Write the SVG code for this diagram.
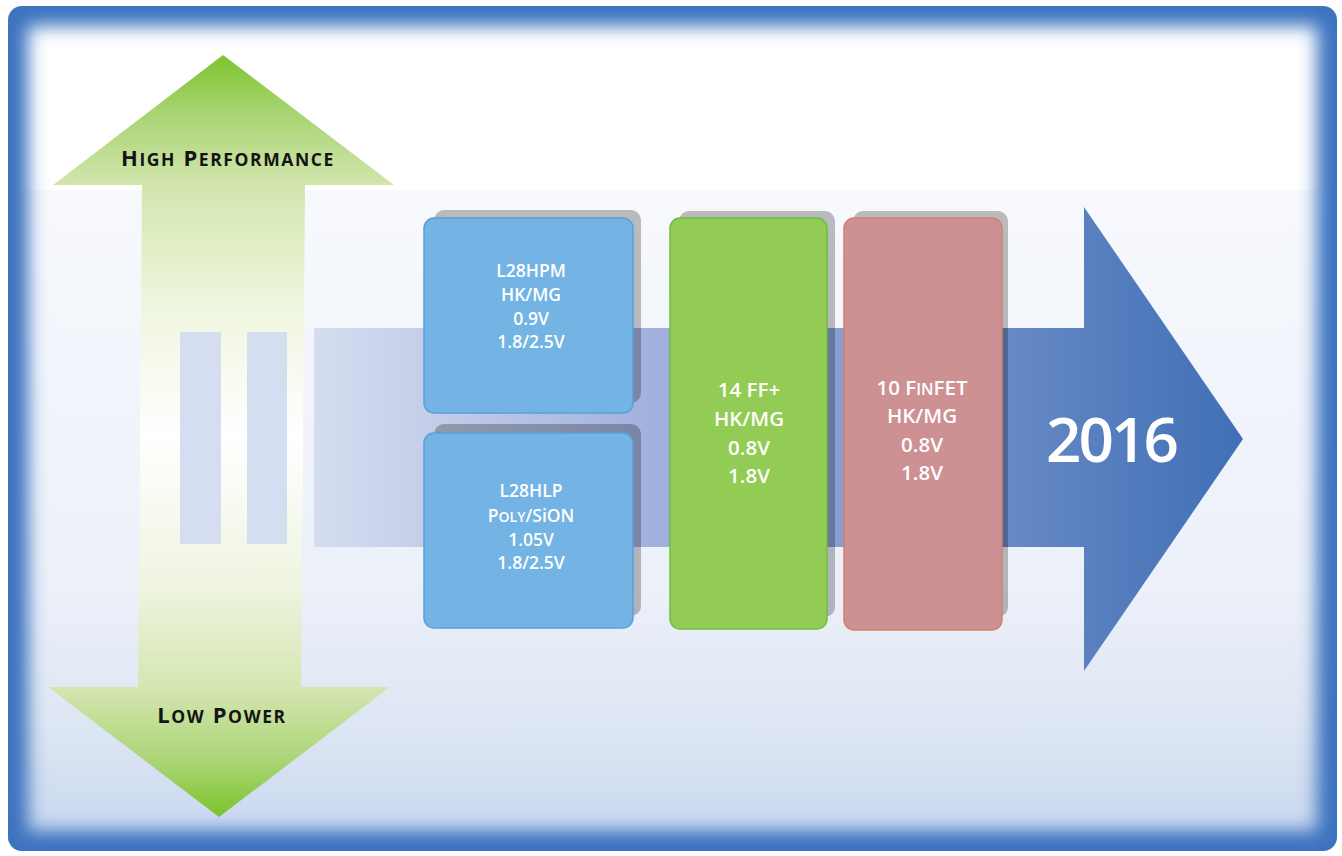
<svg xmlns="http://www.w3.org/2000/svg" width="1342" height="856" viewBox="0 0 1342 856">
  <defs>
    <style>
      .lbl { font-family: "Open Sans", "Noto Sans", "Liberation Sans", sans-serif; font-weight: 700; fill: #141414; text-anchor: middle; letter-spacing: 1.6px; }
      .box-txt { font-family: "Open Sans", "Noto Sans", "Liberation Sans", sans-serif; font-weight: 600; fill: #ffffff; text-anchor: middle; }
      .sm { font-size: 17.5px; }
      .big { font-size: 22px; }
      .shadow { fill: #000000; fill-opacity: 0.25; }
      .pause { fill: #d5def0; }
    </style>
    <clipPath id="frameClip">
      <rect x="8" y="6" width="1329" height="845" rx="14" ry="14"/>
    </clipPath>
    <linearGradient id="bandGrad" gradientUnits="userSpaceOnUse" x1="0" y1="190" x2="0" y2="851">
      <stop offset="0" stop-color="#f7f9fd"/>
      <stop offset="0.6" stop-color="#ecf0f9"/>
      <stop offset="0.8" stop-color="#dfe7f4"/>
      <stop offset="1" stop-color="#c6d5ee"/>
    </linearGradient>
    <linearGradient id="greenGrad" gradientUnits="userSpaceOnUse" x1="0" y1="55" x2="0" y2="817">
      <stop offset="0" stop-color="#7cc42c"/>
      <stop offset="0.07" stop-color="#a5d36e"/>
      <stop offset="0.17" stop-color="#d2e5ac"/>
      <stop offset="0.32" stop-color="#eef5dd"/>
      <stop offset="0.5" stop-color="#ffffff"/>
      <stop offset="0.7" stop-color="#eef4e0"/>
      <stop offset="0.83" stop-color="#d5e6b2"/>
      <stop offset="0.93" stop-color="#a8d472"/>
      <stop offset="1" stop-color="#7cc42c"/>
    </linearGradient>
    <linearGradient id="timeGrad" gradientUnits="userSpaceOnUse" x1="314" y1="0" x2="1243" y2="0">
      <stop offset="0" stop-color="#d5ddef"/>
      <stop offset="0.35" stop-color="#a4b2de"/>
      <stop offset="0.57" stop-color="#869dcf"/>
      <stop offset="0.83" stop-color="#5a80c0"/>
      <stop offset="1" stop-color="#4070b5"/>
    </linearGradient>
    <filter id="edgeBlur" x="-5%" y="-5%" width="110%" height="110%">
      <feGaussianBlur stdDeviation="9"/>
    </filter>
  </defs>

  <!-- page -->
  <rect x="0" y="0" width="1342" height="856" fill="#ffffff"/>

  <!-- framed panel background -->
  <g id="panel" clip-path="url(#frameClip)">
    <rect x="8" y="6" width="1329" height="845" fill="#ffffff"/>
    <rect x="8" y="190" width="1329" height="661" fill="url(#bandGrad)"/>
  </g>

  <!-- performance / power axis -->
  <g id="axis">
    <polygon points="223,55 394,185 305,185 301,687 390,687 219,817 48,687 138,687 142,185 53,185" fill="url(#greenGrad)"/>
    <text class="lbl" x="228" y="166"><tspan class="big">H</tspan><tspan class="sm">IGH</tspan><tspan class="big"> P</tspan><tspan class="sm">ERFORMANCE</tspan></text>
    <text class="lbl" x="222" y="723"><tspan class="big">L</tspan><tspan class="sm">OW</tspan><tspan class="big"> P</tspan><tspan class="sm">OWER</tspan></text>
  </g>

  <!-- pause marks -->
  <g id="pause">
    <rect class="pause" x="180" y="332" width="41" height="212"/>
    <rect class="pause" x="247" y="332" width="40" height="212"/>
  </g>

  <!-- timeline arrow -->
  <g id="timeline">
    <polygon points="314,328 1084,328 1084,207 1243,439 1084,671 1084,547 314,547" fill="url(#timeGrad)"/>
    <text x="1111" y="462" font-family="Open Sans, Noto Sans, Liberation Sans, sans-serif" font-size="62" font-weight="600" letter-spacing="-3" fill="#ffffff" text-anchor="middle">2016</text>
  </g>

  <!-- process nodes -->
  <g id="node-l28hpm">
    <rect class="shadow" x="434" y="210" width="207" height="193" rx="10"/>
    <rect x="424" y="218" width="209" height="195" rx="10" fill="#73b4e5" stroke="#5a9fd8" stroke-width="1.5"/>
    <text class="box-txt" font-size="17.5" x="531" y="277">L28HPM</text>
    <text class="box-txt" font-size="17.5" x="531" y="301">HK/MG</text>
    <text class="box-txt" font-size="17.5" x="531" y="325">0.9V</text>
    <text class="box-txt" font-size="17.5" x="531" y="348">1.8/2.5V</text>
  </g>

  <g id="node-l28hlp">
    <rect class="shadow" x="434" y="424" width="207" height="192" rx="10"/>
    <rect x="424" y="433" width="209" height="195" rx="10" fill="#73b4e5" stroke="#5a9fd8" stroke-width="1.5"/>
    <text class="box-txt" font-size="17.5" x="531" y="497">L28HLP</text>
    <text class="box-txt" font-size="17.5" x="531" y="522">P<tspan font-size="14">OLY</tspan>/SiON</text>
    <text class="box-txt" font-size="17.5" x="531" y="546">1.05V</text>
    <text class="box-txt" font-size="17.5" x="531" y="569">1.8/2.5V</text>
  </g>

  <g id="node-14ff">
    <rect class="shadow" x="679" y="211" width="156" height="406" rx="10"/>
    <rect x="670" y="218" width="157" height="411" rx="10" fill="#92cc55" stroke="#6cbf45" stroke-width="1.5"/>
    <text class="box-txt" font-size="20.5" x="749" y="397">14 FF+</text>
    <text class="box-txt" font-size="20.5" x="749" y="426">HK/MG</text>
    <text class="box-txt" font-size="20.5" x="749" y="455">0.8V</text>
    <text class="box-txt" font-size="20.5" x="749" y="483">1.8V</text>
  </g>

  <g id="node-10finfet">
    <rect class="shadow" x="853" y="211" width="155" height="406" rx="10"/>
    <rect x="844" y="218" width="158" height="412" rx="10" fill="#cd9093" stroke="#d4806b" stroke-width="1.5"/>
    <text class="box-txt" font-size="20.5" x="922" y="395">10 F<tspan font-size="16">IN</tspan>FET</text>
    <text class="box-txt" font-size="20.5" x="922" y="423">HK/MG</text>
    <text class="box-txt" font-size="20.5" x="922" y="452">0.8V</text>
    <text class="box-txt" font-size="20.5" x="922" y="480">1.8V</text>
  </g>

  <!-- soft blue frame edge -->
  <g id="frame" clip-path="url(#frameClip)">
    <rect x="8" y="6" width="1329" height="845" rx="14" fill="none" stroke="#3a72bf" stroke-width="40" filter="url(#edgeBlur)"/>
  </g>
</svg>
